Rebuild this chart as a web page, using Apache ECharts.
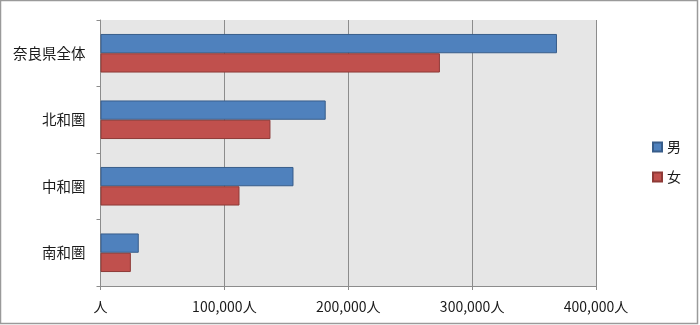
<!DOCTYPE html>
<html>
<head>
<meta charset="utf-8">
<script src="https://cdn.jsdelivr.net/npm/echarts@6/dist/echarts.min.js"></script>
<style>
  html, body { margin: 0; padding: 0; background: #ffffff; }
  #chart { width: 700px; height: 325px; }
</style>
</head>
<body>
<div id="chart"></div>
<script>
// 地域別・男女別の人数
const regions = ['奈良県全体', '北和圏', '中和圏', '南和圏'];
const seriesNames = ['男', '女'];
const maleValues = [368500, 181800, 155800, 30900];
const femaleValues = [274000, 137200, 112200, 24500];
const xTickValues = [0, 100000, 200000, 300000, 400000];
const xTickLabels = ['人', '100,000人', '200,000人', '300,000人', '400,000人'];

const FONT = '"Noto Sans CJK JP", "Noto Sans", sans-serif';
const GRID_GRAY = '#8c8c8c';

const chart = echarts.init(document.getElementById('chart'), null, { renderer: 'canvas' });

chart.setOption({
  animation: false,
  backgroundColor: '#ffffff',
  textStyle: { fontFamily: FONT, color: '#1a1a1a' },
  graphic: [{
    type: 'rect',
    shape: { x: 0.5, y: 0.5, width: 697, height: 323 },
    style: { fill: 'none', stroke: '#9a9a9a', lineWidth: 1.5 },
    silent: true,
    z: 100
  }],
  grid: {
    left: 100.5, right: 104, top: 20, bottom: 39,
    show: true, backgroundColor: '#e6e6e6', borderWidth: 0,
    containLabel: false
  },
  legend: {
    orient: 'vertical',
    left: 647, top: 135,
    itemWidth: 9, itemHeight: 9,
    itemGap: 16,
    icon: 'rect',
    textStyle: { fontFamily: FONT, fontSize: 14, color: '#1a1a1a' },
    data: seriesNames
  },
  xAxis: {
    type: 'value',
    min: 0, max: 400000, interval: 100000,
    axisLine: { show: true, lineStyle: { color: GRID_GRAY, width: 1 } },
    axisTick: { show: true, length: 4, lineStyle: { color: GRID_GRAY } },
    splitLine: { show: true, lineStyle: { color: GRID_GRAY, width: 1 } },
    axisLabel: {
      margin: 14,
      fontFamily: FONT, fontSize: 14, color: '#1a1a1a',
      formatter: function (v) {
        const i = xTickValues.indexOf(v);
        return i >= 0 ? xTickLabels[i] : '';
      }
    }
  },
  yAxis: {
    type: 'category',
    inverse: true,
    data: regions,
    axisLine: { show: true, lineStyle: { color: GRID_GRAY, width: 1 } },
    axisTick: { show: true, length: 4, lineStyle: { color: GRID_GRAY } },
    axisLabel: { margin: 15, fontFamily: FONT, fontSize: 14.5, color: '#1a1a1a' },
    splitLine: { show: false }
  },
  series: [
    {
      name: seriesNames[0],
      type: 'bar',
      data: maleValues,
      barGap: '0%',
      barCategoryGap: '42%',
      itemStyle: { color: '#4f81bd', borderColor: '#385d8a', borderWidth: 1 }
    },
    {
      name: seriesNames[1],
      type: 'bar',
      data: femaleValues,
      barGap: '0%',
      barCategoryGap: '42%',
      itemStyle: { color: '#c0504d', borderColor: '#8e3a37', borderWidth: 1 }
    }
  ]
});
</script>
</body>
</html>
